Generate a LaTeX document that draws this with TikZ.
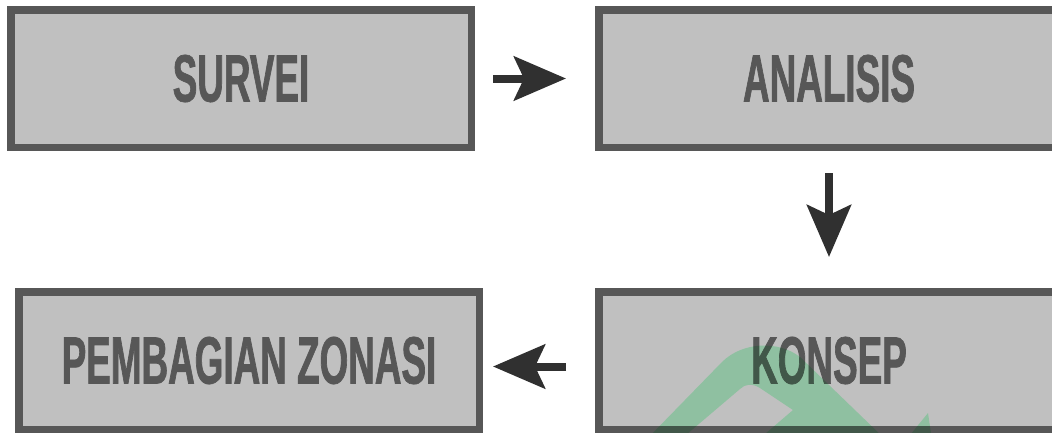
\documentclass[tikz,border=0pt]{standalone}
\usepackage{fontspec}
\newfontfamily\boxfont[FakeStretch=0.55,FakeBold=1]{Liberation Sans}
\usetikzlibrary{arrows.meta}
\definecolor{boxFill}{RGB}{192,192,192}
\definecolor{boxLine}{RGB}{87,87,87}
\definecolor{arrowInk}{RGB}{48,48,48}
\definecolor{markGreen}{RGB}{191,255,214}

\begin{document}
\begin{tikzpicture}
[x=1pt,y=-1pt,%
  boxDecorate/.style={shape=rectangle,draw=boxLine,fill=boxFill,line width=7.5pt,
    minimum width=460.5pt,minimum height=137.5pt,inner sep=0pt,
    text=boxLine,font=\boxfont\bfseries\fontsize{67}{67}\selectfont},%
  arrowDecorate/.style={-{Stealth[length=52pt,width=44pt,inset=10pt]},
    line width=8pt,draw=arrowInk}]
\useasboundingbox (0,0) rectangle (1052,432);
\clip (0,0) rectangle (1052,432);
%% boxes
\foreach \nodename/\x/\y/\boxtext in {
  survei/241/78.5/SURVEI, analisis/829/78.5/ANALISIS,
  konsep/829/360.5/KONSEP, zonasi/249/360.5/PEMBAGIAN ZONASI}
{
  \node (\nodename) at (\x,\y) [boxDecorate] {\boxtext};
}
%% arrows
\draw[arrowDecorate,shorten <=18pt,shorten >=29pt] (survei) -- (analisis);
\draw[arrowDecorate,shorten <=22pt,shorten >=31pt] (analisis) -- (konsep);
\draw[arrowDecorate,shorten <=29pt,shorten >=10pt]
  ([yshift=-6pt]konsep.west) -- ([yshift=-6pt]zonasi.east);
%% watermark
\fill[markGreen,blend mode=multiply] (646,440) -- (722,362)
  .. controls (742,342) and (778,340) .. (800,357) -- (886,440) -- (758,440)
  -- (793,410) -- (760,388) .. controls (752,383) and (745,384) .. (740,389)
  -- (680,440) -- cycle;
\fill[markGreen,blend mode=multiply] (906,440) -- (928,413) -- (932,440) -- cycle;
\end{tikzpicture}
\end{document}
